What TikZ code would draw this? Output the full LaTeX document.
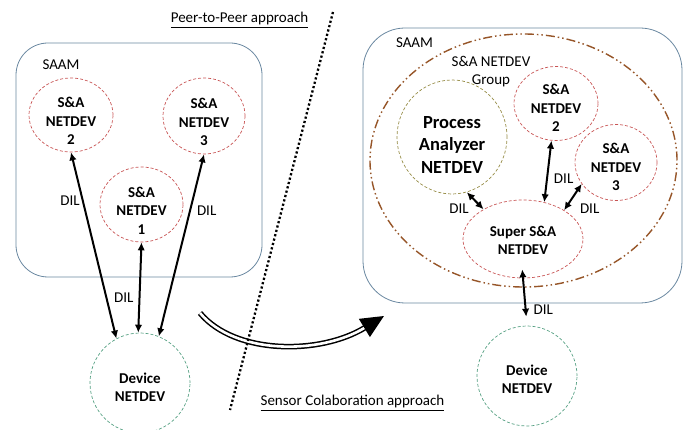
\documentclass[tikz,border=0pt]{standalone}
\usepackage{fontspec}
\setmainfont{Carlito}
\usetikzlibrary{shapes.geometric,arrows.meta}
\definecolor{saamblue}{RGB}{105,135,160}
\definecolor{netred}{RGB}{200,85,85}
\definecolor{devgreen}{RGB}{85,160,130}
\definecolor{paolive}{RGB}{150,140,70}
\definecolor{grpbrown}{RGB}{150,85,40}
\begin{document}
\begin{tikzpicture}[x=1pt,y=-1pt]
        % Styles
        \tikzstyle{saam box}=[draw=saamblue,line width=0.8pt]
        \tikzstyle{plain text}=[font=\fontsize{15}{18.5}\selectfont,inner sep=0pt,align=center]
        \tikzstyle{netdev}=[ellipse,draw=netred,line width=0.7pt,dash pattern=on 3pt off 2pt,inner sep=0pt]
        \tikzstyle{netdev text}=[inner sep=0pt,align=center,font=\fontsize{15}{18.5}\selectfont\bfseries]
        \tikzstyle{device}=[netdev,circle,draw=devgreen,minimum size=100pt]
        \tikzstyle{analyzer}=[netdev,draw=paolive]
        \tikzstyle{analyzer text}=[netdev text,font=\fontsize{18.5}{22.5}\selectfont\bfseries]
        \tikzstyle{group ring}=[ellipse,draw=grpbrown,line width=1.4pt,dash pattern=on 9pt off 3pt on 1.5pt off 3pt on 1.5pt off 3pt]
        \tikzstyle{dil link}=[line width=2pt,<->,>={Latex[length=8pt,width=7.5pt]}]
        \tikzstyle{dil}=[plain text]
        \tikzstyle{shift arrow}=[double,double distance=2.6pt,line width=1.5pt,-{Triangle[length=23pt,width=21pt]}]
        \tikzstyle{divider}=[line width=2.3pt,dash pattern=on 2.2pt off 2.3pt]
        \useasboundingbox (0,0) rectangle (691,430);
        \clip (0,0) rectangle (691,430);
        %titles
        \node[plain text] (ptp) at (239.5,20) {\underline{Peer-to-Peer approach}};
        \node[plain text] (scol) at (352.5,403) {\underline{Sensor Colaboration approach}};
        %peer-to-peer side
        \draw[saam box,rounded corners=32pt] (16,43) rectangle (262,277);
        \node[plain text] (saamL) at (61,65) {SAAM};
        \node[netdev,minimum width=84pt,minimum height=74pt] (nd2) at (71,115) {};
        \node[netdev text] (nd2t) at ([yshift=-6pt]nd2.center) {S\&A\\NETDEV\\2};
        \node[netdev,minimum width=82pt,minimum height=76pt] (nd3) at (204,116) {};
        \node[netdev text] (nd3t) at ([yshift=-6pt]nd3.center) {S\&A\\NETDEV\\3};
        \node[netdev,minimum width=83pt,minimum height=75pt] (nd1) at (141.5,204.5) {};
        \node[netdev text] (nd1t) at ([yshift=-6pt]nd1.center) {S\&A\\NETDEV\\1};
        \node[device] (dev) at (140,383) {};
        \node[netdev text] (devt) at ([yshift=-4pt]dev.center) {Device\\NETDEV};
        \draw[dil link] (dev.118) -- (nd2.south) node[dil,pos=0.74,left=2pt] (dil2) {DIL};
        \draw[dil link] (dev.92) -- (nd1.south) node[dil,pos=0.39,left=5pt] (dil1) {DIL};
        \draw[dil link] (dev.68) -- (nd3.south) node[dil,pos=0.69,right=6pt] (dil3) {DIL};
        %collaboration side
        \draw[saam box,rounded corners=42pt] (363,28) rectangle (682,303);
        \node[plain text] (saamR) at (414.5,43) {SAAM};
        \node[group ring,minimum width=307pt,minimum height=253pt] (grp) at (523.5,160.5) {};
        \node[plain text] (grplabel) at (491,71.5) {S\&A NETDEV\\Group};
        \node[analyzer,minimum width=110pt,minimum height=114pt] (pa) at (452,137) {};
        \node[analyzer text] (pat) at ([yshift=-8pt]pa.center) {Process\\Analyzer\\NETDEV};
        \node[netdev,minimum width=84pt,minimum height=74pt] (rnd2) at (556,103.5) {};
        \node[netdev text] (rnd2t) at ([yshift=-4.5pt]rnd2.center) {S\&A\\NETDEV\\2};
        \node[netdev,minimum width=82pt,minimum height=76pt] (rnd3) at (616,162.5) {};
        \node[netdev text] (rnd3t) at ([yshift=-4.5pt]rnd3.center) {S\&A\\NETDEV\\3};
        \node[netdev,minimum width=120pt,minimum height=78pt] (sup) at (523,239) {};
        \node[netdev text] (supt) at ([yshift=-1.5pt]sup.center) {Super S\&A\\NETDEV};
        \node[device] (rdev) at (527,376) {};
        \node[netdev text] (rdevt) at ([yshift=-3pt]rdev.center) {Device\\NETDEV};
        \draw[dil link] (pa.-75) -- (sup.143) node[dil,pos=0.95,left=13pt] (dilpa) {DIL};
        \draw[dil link] (rnd2.-97) -- (sup.60) node[dil,pos=0.62,right=6pt] (dilr2) {DIL};
        \draw[dil link] (rnd3.212) -- (sup.35) node[dil,pos=0.95,right=14pt] (dilr3) {DIL};
        \draw[dil link,shorten <=9pt,shorten >=-9pt] (rdev.north) -- (sup.south) node[dil,pos=0.33,right=7pt] (dildev) {DIL};
        %big arrow and divider
        \coordinate (arrS) at (200,313);
        \coordinate (arrE) at (384,316);
        \draw[shift arrow] (arrS) .. controls (235,355) and (320,355) .. (arrE);
        \coordinate (divT) at (333,12);
        \coordinate (divB) at (230,410);
        \draw[divider] (divT) -- (divB);
\end{tikzpicture}
\end{document}
